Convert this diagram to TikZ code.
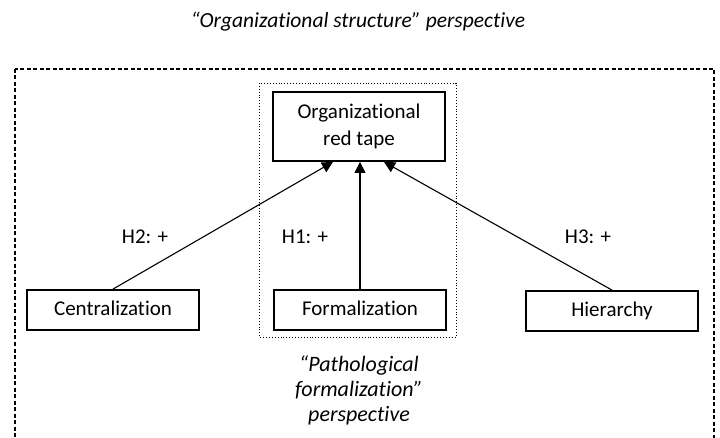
\documentclass[tikz,border=0pt]{standalone}
\usepackage{fontspec}
\setmainfont{Carlito}[Ligatures=NoCommon]
\usetikzlibrary{arrows.meta}
\usetikzlibrary{positioning}

\begin{document}
\begin{tikzpicture}[x=1pt,y=-1pt]
\tikzset{varbox/.style={rectangle,draw,line width=1.8pt,minimum width=172pt,minimum height=40pt,font=\fontsize{21}{25}\selectfont},
linebox/.style={varbox,text height=13.5pt,text depth=2pt},
hlabel/.style={font=\fontsize{21}{25}\selectfont},
persp/.style={font=\fontsize{22}{25}\selectfont\itshape,align=center},
effect/.style={line width=1.1pt,-{Triangle[length=11pt,width=11pt]}}}
\clip (0,0) rectangle (720,438);
% perspectives
\node[persp,font=\fontsize{21.5}{26}\selectfont\itshape](tperspective) at (358,22){``Organizational structure'' perspective};
\draw[line width=1.3pt,dash pattern=on 4pt off 2.5pt] (15,69) rectangle (714,460);
\draw[line width=0.9pt,dotted] (259,83) rectangle (456,337);
\node[persp](bperspective) at (359,390){``Pathological\\formalization''\\perspective};
% variables
\node[varbox,minimum height=69pt,align=center,font=\fontsize{21}{27}\selectfont](redtape) at (359,126.5){Organizational\\red tape};
\node[linebox](centr) at (113,310){Centralization};
\node[linebox](formal) at (360,310){Formalization};
\node[linebox](hier) at (612,311){Hierarchy};
% hypotheses
\draw[effect](centr.north) -- ([xshift=-26pt]redtape.south);
\draw[effect](formal.north) -- (formal.north |- redtape.south);
\draw[effect](hier.north) -- ([xshift=25pt]redtape.south);
\node[hlabel](htwo) at (145,237){H2: +};
\node[hlabel](hone) at (305,237){H1: +};
\node[hlabel](hthree) at (588,237){H3: +};
\end{tikzpicture}
\end{document}
